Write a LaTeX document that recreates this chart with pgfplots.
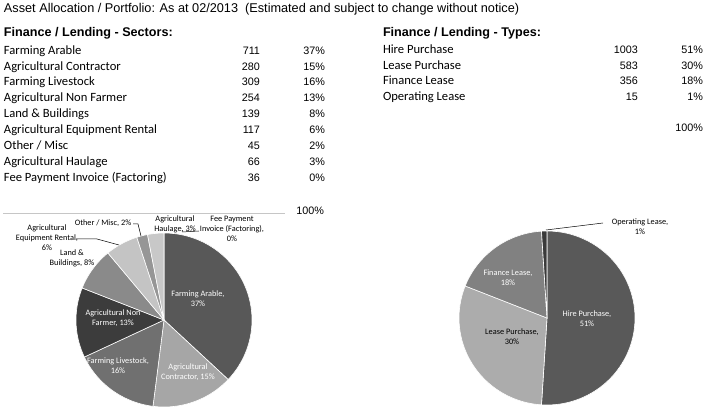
\documentclass[border=0pt]{standalone}
\usepackage{pgfplots}
\pgfplotsset{compat=1.18}
\usepackage{fontspec}
\setmainfont{Liberation Sans}
\newfontfamily\calib{Carlito}
% wedge greys, sectors pie
\definecolor{sArable}{RGB}{88,88,88}
\definecolor{sContr}{RGB}{166,166,166}
\definecolor{sLive}{RGB}{112,112,112}
\definecolor{sNonF}{RGB}{60,60,60}
\definecolor{sLand}{RGB}{138,138,138}
\definecolor{sEquip}{RGB}{196,196,196}
\definecolor{sOther}{RGB}{150,150,150}
\definecolor{sHaul}{RGB}{200,200,200}
% wedge greys, types pie
\definecolor{tHire}{RGB}{89,89,89}
\definecolor{tLease}{RGB}{172,172,172}
\definecolor{tFin}{RGB}{129,129,129}
\definecolor{tOper}{RGB}{58,58,58}

\pgfplotsset{pie/.style={
  anchor=center, scale only axis, width=176pt, height=174pt,
  hide axis, clip=false, xmin=-1, xmax=1, ymin=-1, ymax=1,
  samples=60, every axis plot/.append style={draw=white, line width=0.6pt}}}
% wedge from percent a to percent b, clockwise from 12 o'clock
\newcommand\pieslice[3]{\addplot[fill=#1, domain=#2:#3] ({cos(90-3.6*x)},{sin(90-3.6*x)}) -- (0,0) -- cycle;}

\begin{document}
\begin{tikzpicture}
\path (0,0) rectangle (710pt,-411pt);

% Sectors (percent): 37 15 16 13 8 6 2 3 0
\begin{axis}[pie, at={(164pt,-320pt)}]
\pieslice{sArable}{0}{37}
\pieslice{sContr}{37}{52}
\pieslice{sLive}{52}{68}
\pieslice{sNonF}{68}{81}
\pieslice{sLand}{81}{89}
\pieslice{sEquip}{89}{95}
\pieslice{sOther}{95}{97}
\pieslice{sHaul}{97}{100}
\end{axis}

% Types (percent): 51 30 18 1
\begin{axis}[pie, at={(547pt,-318pt)}]
\pieslice{tHire}{0}{51}
\pieslice{tLease}{51}{81}
\pieslice{tFin}{81}{99}
\pieslice{tOper}{99}{100}
\end{axis}

\begin{scope}[x=1pt, y=-1pt, inner sep=0pt, outer sep=0pt]
\node[anchor=base west, font=\fontsize{12.7}{14}\selectfont] at (4,12.8)
  {Asset Allocation / Portfolio: As at 02/2013\ \ (Estimated and subject to change without notice)};
\node[anchor=base west, font=\fontsize{12.6}{14}\selectfont\bfseries] at (4,36.2) {Finance / Lending - Sectors:};
\node[anchor=base west, font=\fontsize{12.6}{14}\selectfont\bfseries] at (383,36.2) {Finance / Lending - Types:};

\foreach \n/\c/\p [count=\i from 0] in {Farming Arable/711/37, Agricultural Contractor/280/15,
  Farming Livestock/309/16, Agricultural Non Farmer/254/13, Land \& Buildings/139/8,
  Agricultural Equipment Rental/117/6, {Other / Misc}/45/2, Agricultural Haulage/66/3,
  Fee Payment Invoice (Factoring)/36/0} {
  \node[anchor=base west, font=\calib\fontsize{12.6}{14}\selectfont] at (4,54.3+15.85*\i) {\n};
  \node[anchor=base east, font=\fontsize{10.8}{12}\selectfont] at (260,54.3+15.85*\i) {\c};
  \node[anchor=base east, font=\fontsize{10.8}{12}\selectfont] at (325,54.3+15.85*\i) {\p\%};
}
\foreach \n/\c/\p [count=\i from 0] in {Hire Purchase/1003/51, Lease Purchase/583/30,
  Finance Lease/356/18, Operating Lease/15/1} {
  \node[anchor=base west, font=\calib\fontsize{12.6}{14}\selectfont] at (383,53.3+15.85*\i) {\n};
  \node[anchor=base east, font=\fontsize{10.8}{12}\selectfont] at (638,53.3+15.85*\i) {\c};
  \node[anchor=base east, font=\fontsize{10.8}{12}\selectfont] at (703,53.3+15.85*\i) {\p\%};
}
\node[anchor=base east, font=\fontsize{10.8}{12}\selectfont] at (703,132) {100\%};
\node[anchor=base east, font=\fontsize{10.8}{12}\selectfont] at (324,215) {100\%};
\draw[gray!45, line width=0.6pt] (3,213) -- (285,213);

% pie labels
\begin{scope}[every node/.style={align=center, font=\calib\fontsize{8.3}{10}\selectfont}]
\node[white] at (198,299) {Farming Arable,\\37\%};
\node[white] at (188,372) {Agricultural\\Contractor, 15\%};
\node[white] at (118,366) {Farming Livestock,\\16\%};
\node[white] at (113,318) {Agricultural Non\\Farmer, 13\%};
\node at (72,258) {Land \&\\Buildings, 8\%};
\node at (47,238) {Agricultural\\Equipment Rental,\\6\%};
\node at (103,223) {Other / Misc, 2\%};
\node at (175,224) {Agricultural\\Haulage, 3\%};
\node at (232,229) {Fee Payment\\Invoice (Factoring),\\0\%};
\node[white] at (508,278) {Finance Lease,\\18\%};
\node[white] at (587,319) {Hire Purchase,\\51\%};
\node at (512,337) {Lease Purchase,\\30\%};
\node at (640,227) {Operating Lease,\\1\%};
\end{scope}
\begin{scope}[line width=0.5pt]
\draw (76,239) -- (97,239) -- (119,245);
\draw (133,224) -- (138,224) -- (141,236);
\draw (182,232) -- (199,231);
\draw (546,230) -- (603,223);
\end{scope}
\end{scope}
\end{tikzpicture}
\end{document}
